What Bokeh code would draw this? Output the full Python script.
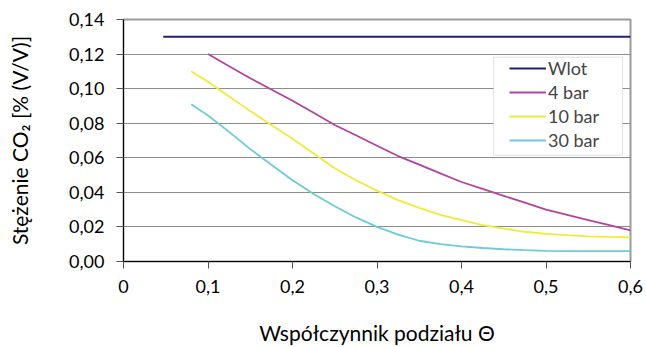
from bokeh.plotting import figure
from bokeh.models import (FixedTicker, Legend, LegendItem, BoxAnnotation, Range1d)
from bokeh.embed import file_html
from bokeh.resources import INLINE

# ---- data ----
x_wlot = [0.047, 0.6]
y_wlot = [0.130, 0.130]

x_4bar = [0.10, 0.125, 0.15, 0.175, 0.20, 0.225, 0.25, 0.275, 0.30, 0.325, 0.35,
          0.375, 0.40, 0.425, 0.45, 0.475, 0.50, 0.525, 0.55, 0.575, 0.60]
y_4bar = [0.120, 0.113, 0.106, 0.0995, 0.093, 0.086, 0.079, 0.073, 0.067, 0.061, 0.056,
          0.051, 0.046, 0.042, 0.038, 0.034, 0.030, 0.027, 0.024, 0.021, 0.018]

x_10bar = [0.08, 0.10, 0.125, 0.15, 0.175, 0.20, 0.225, 0.25, 0.275, 0.30, 0.325, 0.35,
           0.375, 0.40, 0.425, 0.45, 0.475, 0.50, 0.525, 0.55, 0.575, 0.60]
y_10bar = [0.110, 0.104, 0.0955, 0.087, 0.079, 0.071, 0.0625, 0.054, 0.047, 0.041, 0.0355, 0.031,
           0.027, 0.024, 0.021, 0.019, 0.0172, 0.016, 0.0152, 0.0145, 0.0142, 0.014]

x_30bar = [0.08, 0.10, 0.125, 0.15, 0.175, 0.20, 0.225, 0.25, 0.275, 0.30, 0.325, 0.35,
           0.375, 0.40, 0.425, 0.45, 0.475, 0.50, 0.525, 0.55, 0.575, 0.60]
y_30bar = [0.091, 0.0845, 0.075, 0.065, 0.056, 0.047, 0.039, 0.032, 0.0255, 0.020, 0.0155, 0.012,
           0.0100, 0.0087, 0.0078, 0.0071, 0.0066, 0.0062, 0.0060, 0.0060, 0.0060, 0.0060]

series_names = ["Wlot", "4 bar", "10 bar", "30 bar"]

x_ticks = [0, 0.1, 0.2, 0.3, 0.4, 0.5, 0.6]
x_tick_labels = ["0", "0,1", "0,2", "0,3", "0,4", "0,5", "0,6"]
y_ticks = [0, 0.02, 0.04, 0.06, 0.08, 0.10, 0.12, 0.14]
y_tick_labels = ["0,00", "0,02", "0,04", "0,06", "0,08", "0,10", "0,12", "0,14"]

x_title = "Współczynnik podziału Θ"
y_title = "Stężenie CO₂ [% (V/V)]"

FONT = "Lato"

p = figure(width=646, height=347, output_backend="svg", toolbar_location=None,
           x_range=Range1d(0, 0.6), y_range=Range1d(0, 0.14),
           min_border_left=123, min_border_right=16, min_border_top=19,
           min_border_bottom=86)
p.background_fill_color = "white"
p.border_fill_color = "white"
p.outline_line_color = "#9A9A9A"
p.outline_line_width = 2

# axes
for ax in (p.xaxis[0], p.yaxis[0]):
    ax.axis_line_color = "black"
    ax.axis_line_width = 1
    ax.major_tick_line_color = "#555555"
    ax.major_tick_out = 7
    ax.major_tick_in = 0
    ax.minor_tick_line_color = None
    ax.major_label_text_font = FONT
    ax.major_label_text_font_size = "18px"
    ax.major_label_text_color = "black"
    ax.axis_label_text_font = FONT
    ax.axis_label_text_font_size = "21px"
    ax.axis_label_text_font_style = "normal"
    ax.axis_label_text_color = "black"

p.xaxis.ticker = FixedTicker(ticks=x_ticks)
p.xaxis.major_label_overrides = dict(zip(x_ticks, x_tick_labels))
p.yaxis.ticker = FixedTicker(ticks=y_ticks)
p.yaxis.major_label_overrides = dict(zip(y_ticks, y_tick_labels))
p.xaxis.axis_label = x_title
p.yaxis.axis_label = y_title
p.xaxis.major_label_standoff = 11
p.yaxis.major_label_standoff = 12
p.xaxis.axis_label_standoff = 24
p.yaxis.axis_label_standoff = 34

p.xgrid.grid_line_color = None
p.ygrid.grid_line_color = "#8C8C8C"
p.ygrid.grid_line_width = 1

colors = ["#1F1F78", "#B2449E", "#F0EA38", "#6CCBD6"]
r1 = p.line(x_wlot, y_wlot, line_color=colors[0], line_width=2)
r2 = p.line(x_4bar, y_4bar, line_color=colors[1], line_width=1.8)
r3 = p.line(x_10bar, y_10bar, line_color=colors[2], line_width=1.8)
r4 = p.line(x_30bar, y_30bar, line_color=colors[3], line_width=1.8)

# legend frame (white box)
box = BoxAnnotation(left=0.438, right=0.5905, bottom=0.0615, top=0.1182,
                    fill_color="white", fill_alpha=1.0,
                    line_color="#9A9A9A", line_width=1)
p.add_layout(box)

legend = Legend(items=[LegendItem(label=n, renderers=[r])
                       for n, r in zip(series_names, [r1, r2, r3, r4])],
                location=(386, 110), padding=0, margin=0, spacing=2,
                glyph_width=37, glyph_height=22, label_standoff=2,
                label_text_font=FONT, label_text_font_size="18px",
                label_height=22,
                border_line_alpha=0, background_fill_alpha=0)
p.add_layout(legend)

open("out.html", "w").write(file_html(p, INLINE))
